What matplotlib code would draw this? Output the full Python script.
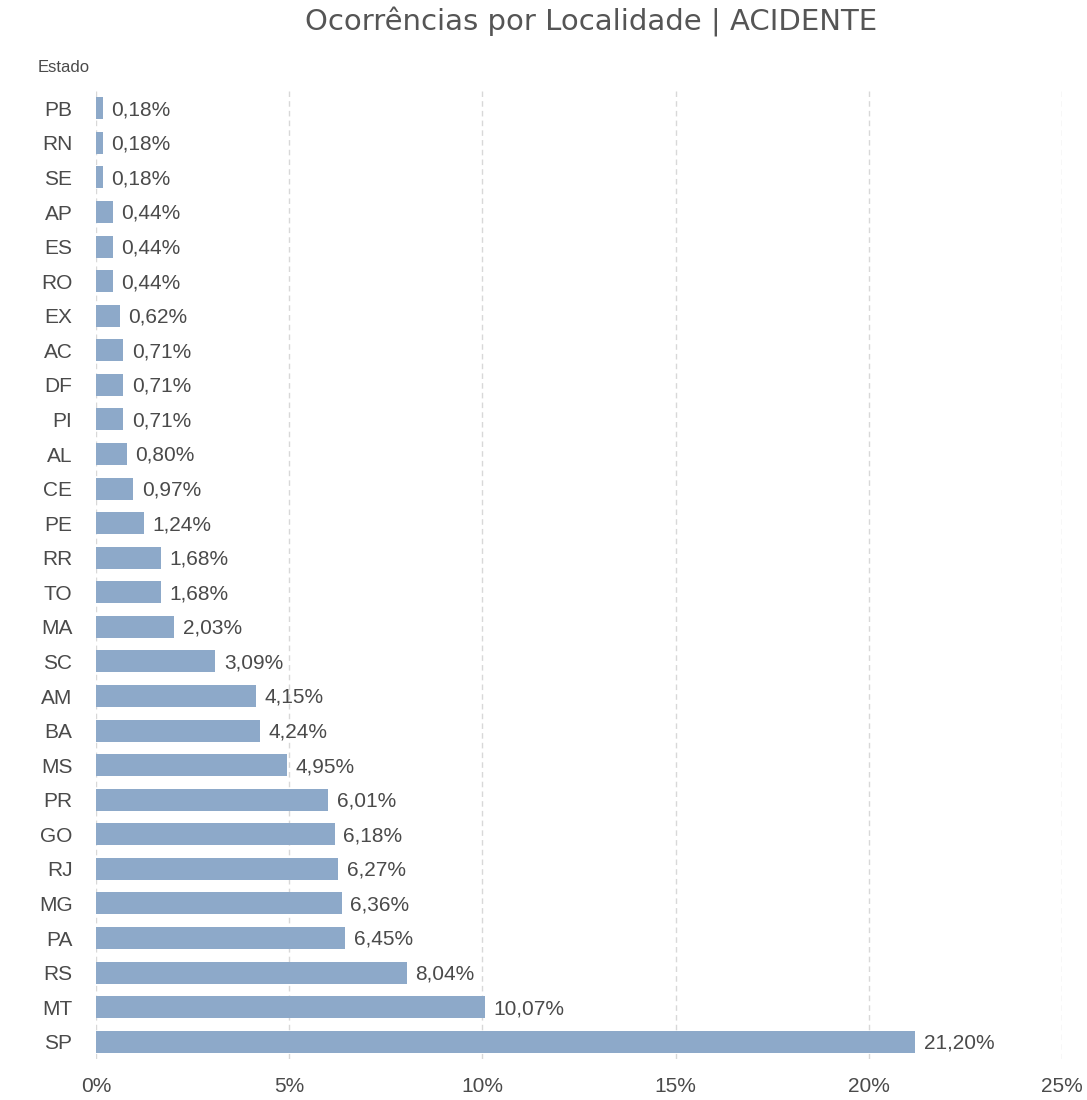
import matplotlib
matplotlib.use("Agg")
import matplotlib.pyplot as plt
from matplotlib.ticker import FuncFormatter

estados = ["PB", "RN", "SE", "AP", "ES", "RO", "EX", "AC", "DF", "PI", "AL", "CE", "PE",
           "RR", "TO", "MA", "SC", "AM", "BA", "MS", "PR", "GO", "RJ", "MG", "PA", "RS", "MT", "SP"]
percentuais = [0.18, 0.18, 0.18, 0.44, 0.44, 0.44, 0.62, 0.71, 0.71, 0.71, 0.80, 0.97, 1.24,
               1.68, 1.68, 2.03, 3.09, 4.15, 4.24, 4.95, 6.01, 6.18, 6.27, 6.36, 6.45, 8.04, 10.07, 21.20]
x_ticks = [0, 5, 10, 15, 20, 25]

bar_color = "#8DA9C9"
text_color = "#4a4a4a"
font = ["Liberation Sans", "DejaVu Sans"]

fig = plt.figure(figsize=(10.87, 11.0), dpi=100)
ax = fig.add_axes([96 / 1087, 1 - 1059 / 1100, (1062 - 96) / 1087, (1059 - 91) / 1100])

y = list(range(len(estados)))
ax.barh(y, percentuais, height=0.64, color=bar_color, zorder=2)
for yi, v in zip(y, percentuais):
    ax.text(v + 0.22, yi + 0.04, f"{v:.2f}%".replace(".", ","), va="center", ha="left",
            fontsize=15, color=text_color, family=font)

ax.set_ylim(len(estados) - 0.5, -0.5)
ax.set_xlim(0, 25)
ax.set_yticks(y)
ax.set_yticklabels(estados, fontsize=15, color=text_color, family=font)
ax.set_xticks(x_ticks)
ax.xaxis.set_major_formatter(FuncFormatter(lambda v, p: f"{int(v)}%"))
for lbl in ax.get_xticklabels():
    lbl.set_family(font)
    lbl.set_fontsize(15)
    lbl.set_color(text_color)
ax.tick_params(axis="both", length=0)
ax.tick_params(axis="y", pad=17)
ax.tick_params(axis="x", pad=13)
ax.grid(axis="x", color="#d8d8d8", linestyle=(0, (4, 3)), linewidth=1, zorder=0)
for s in ax.spines.values():
    s.set_visible(False)

fig.text(591 / 1087, 1 - 22 / 1100, "Ocorrências por Localidade | ACIDENTE", ha="center", va="center",
         fontsize=21, color="#555555", family="DejaVu Sans")
fig.text(38 / 1087, 1 - 67 / 1100, "Estado", ha="left", va="center",
         fontsize=12, color=text_color, family=font)

fig.savefig("out.png", dpi=100)
